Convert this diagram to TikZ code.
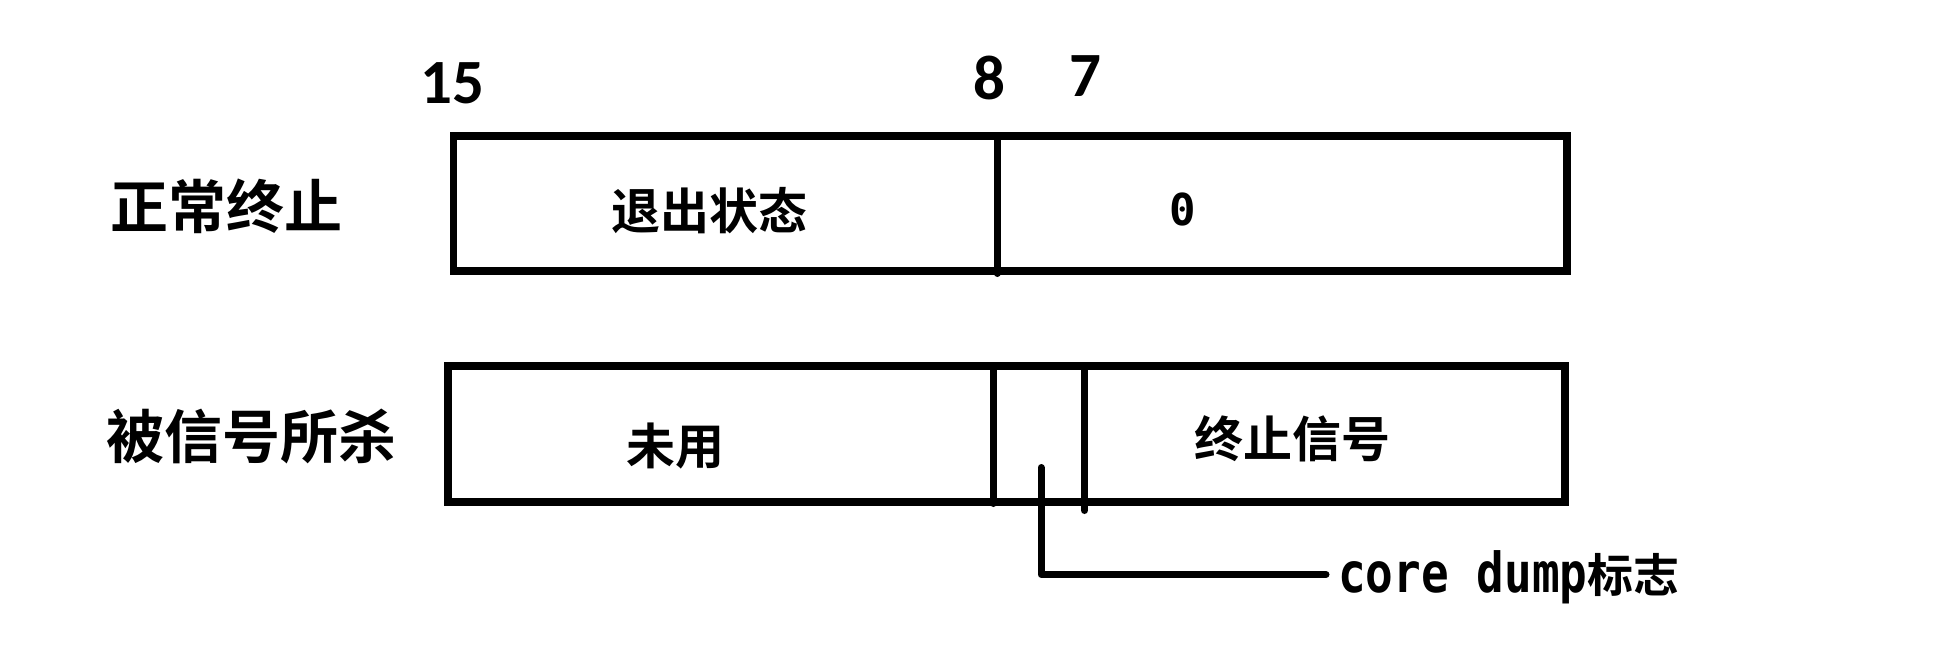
\documentclass[tikz,border=0pt]{standalone}
\usepackage{fontspec}
\newfontfamily\cjk{Noto Sans CJK SC Bold}
\newfontfamily\cjkr{Noto Sans CJK SC}
\newfontfamily\numf{Carlito}
\newfontfamily\monof{DejaVu Sans Mono}
\begin{document}
\begin{tikzpicture}[x=1pt,y=-1pt,
  field/.style={draw, line width=7.5pt, rectangle, inner sep=0pt},
  sepline/.style={line width=7pt, line cap=round},
  conn/.style={line width=7pt, line cap=round, line join=round},
  rowlbl/.style={font=\cjk\fontsize{58}{60}\selectfont, inner sep=0pt},
  inlbl/.style={font=\cjk\fontsize{49}{52}\selectfont, inner sep=0pt},
  bitnum/.style={font=\numf\bfseries\fontsize{63}{66}\selectfont, inner sep=0pt},
  zero/.style={font=\monof\bfseries\fontsize{44}{46}\selectfont, inner sep=0pt},
]
\useasboundingbox (0,0) rectangle (1933,666);
\fill[white] (0,0) rectangle (1933,666);

% bit numbers
\node[bitnum] (b15) at (452,83.5) {15};
\node[bitnum] (b8) at (989.5,78) {8};
\node[bitnum] (b7) at (1085.5,76) {7};

% row labels
\node[rowlbl] (normal) at (226,206.5) {正常终止};
\node[rowlbl] (killed) at (251.5,436.5) {被信号所杀};

% boxes
\node[field, minimum width=1113.5pt, minimum height=135pt] (top) at (1010.25,203.5) {};
\node[field, minimum width=1117pt, minimum height=136pt] (bot) at (1006.5,434) {};

% dividers
\coordinate (d1t) at (997,136);
\coordinate (d1b) at (997,273.5);
\coordinate (d2t) at (993,366);
\coordinate (d2b) at (993,503.5);
\coordinate (d3t) at (1084.5,366);
\coordinate (d3b) at (1084.5,510.5);
\draw[sepline] (d1t) -- (d1b);
\draw[sepline] (d2t) -- (d2b);
\draw[sepline] (d3t) -- (d3b);

% field labels
\node[inlbl] (exit) at (709,211) {退出状态};
\node[zero] (z) at (1183,209) {0};
\node[inlbl] (unused) at (675,446) {未用};
\node[inlbl] (sig) at (1292,439) {终止信号};

% core dump connector
\coordinate (cdtop) at (1041,467.5);
\coordinate (cdend) at (1326,574.5);
\draw[conn] (cdtop) |- (cdend);
\node[inner sep=0pt, anchor=base west] (cd) at (1338,592)
  {\scalebox{1}[1.2]{\monof\bfseries\fontsize{46}{48}\selectfont core dump}\cjk\fontsize{46}{48}\selectfont 标志};
\end{tikzpicture}
\end{document}
